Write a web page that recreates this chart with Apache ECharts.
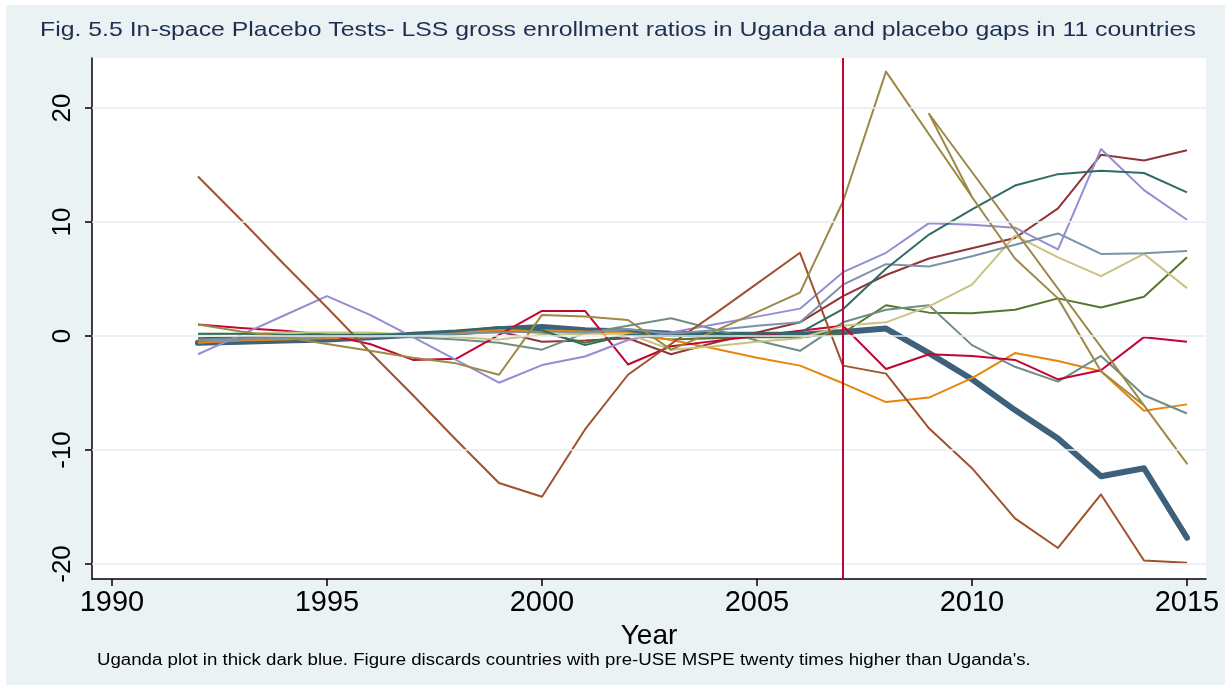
<!DOCTYPE html>
<html>
<head>
<meta charset="utf-8">
<script src="https://cdn.jsdelivr.net/npm/echarts@6/dist/echarts.min.js"></script>
<style>
  html, body { margin: 0; padding: 0; background: #ffffff; }
  #chart { width: 1231px; height: 690px; }
</style>
</head>
<body>
<div id="chart"></div>
<script>
// Years 1992-2015, shared by every country series drawn in year order
const years = [1992, 1993, 1994, 1995, 1996, 1997, 1998, 1999, 2000, 2001, 2002, 2003,
               2004, 2005, 2006, 2007, 2008, 2009, 2010, 2011, 2012, 2013, 2014, 2015];

// Gap series (percentage points)
const uganda    = [-0.6, -0.5, -0.4, -0.3, -0.1, 0.1, 0.3, 0.6, 0.8, 0.5, 0.4, 0.2,
                   0.1, 0.1, 0.1, 0.35, 0.65, -1.5, -3.8, -6.5, -9.0, -12.3, -11.6, -17.7];
const maroon    = [-0.2, -0.1, 0.0, 0.1, 0.1, 0.2, 0.3, 0.4, -0.5, -0.4, -0.2, -1.6,
                   -0.6, 0.3, 1.2, 3.5, 5.35, 6.8, 7.7, 8.6, 11.2, 15.9, 15.4, 16.3];
const forest    = [-0.3, -0.2, -0.1, 0.0, 0.1, 0.1, 0.2, 0.4, 0.3, -0.6, 0.1, -0.3,
                   -0.2, -0.1, -0.1, 0.26, 2.7, 2.05, 2.0, 2.3, 3.3, 2.5, 3.45, 6.9];
const dkorange  = [-0.6, -0.4, -0.3, -0.2, -0.1, 0.1, 0.3, 0.5, 0.5, 0.4, 0.3, -0.35,
                   -1.1, -1.9, -2.6, -4.15, -5.8, -5.4, -3.7, -1.5, -2.2, -3.1, -6.55, -6.0];
const teal      = [-0.3, -0.2, -0.1, 0.0, 0.0, -0.1, -0.3, -0.6, -1.2, 0.25, 0.9, 1.55,
                   0.6, -0.4, -1.3, 1.2, 2.3, 2.7, -0.8, -2.7, -4.0, -1.75, -5.2, -6.8];
const cranberry = [1.0, 0.7, 0.45, 0.1, -0.7, -2.1, -2.0, 0.1, 2.2, 2.2, -2.5, -0.9,
                   -0.45, 0.0, 0.45, 0.9, -2.9, -1.6, -1.75, -2.1, -3.8, -3.0, -0.1, -0.5];
const lavender  = [-1.6, 0.1, 1.8, 3.5, 1.85, -0.1, -2.1, -4.1, -2.55, -1.8, -0.35, 0.3,
                   1.0, 1.7, 2.4, 5.6, 7.3, 9.9, 9.75, 9.5, 7.6, 16.4, 12.8, 10.2];
const khaki     = [0.1, 0.2, 0.3, 0.3, 0.3, 0.1, -0.1, -0.3, 0.1, 0.2, 0.2, -1.2,
                   -0.9, -0.5, -0.2, 0.9, 1.2, 2.6, 4.5, 8.8, 6.9, 5.25, 7.2, 4.2];
const sienna    = [14.0, 10.2, 6.3, 2.5, -1.4, -5.2, -9.1, -12.9, -14.1, -8.2, -3.4, -0.7,
                   1.9, 4.6, 7.3, -2.6, -3.3, -8.1, -11.6, -16.0, -18.6, -13.9, -19.7, -19.9];
const emidblue  = [-0.4, -0.3, -0.2, -0.1, 0.0, 0.1, 0.2, 0.3, 0.4, 0.3, 0.6, 0.2,
                   0.5, 0.9, 1.2, 4.5, 6.3, 6.1, 7.0, 8.0, 9.0, 7.2, 7.25, 7.45];
const emerald   = [0.2, 0.2, 0.1, 0.1, 0.1, 0.2, 0.4, 0.8, 0.5, -0.8, 0.1, 0.0,
                   0.1, 0.2, 0.3, 2.35, 5.9, 8.9, 11.1, 13.2, 14.2, 14.5, 14.3, 12.6];

// This country's rows are stored out of year order; the line follows row order
const brownYears  = [1992, 1993, 1994, 1995, 1996, 1997, 1998, 1999, 2000, 2001, 2002, 2003,
                     2004, 2005, 2006, 2007, 2008, 2010, 2011, 2012, 2013, 2014, 2015, 2009, 2010];
const brownValues = [1.0, 0.4, -0.1, -0.7, -1.3, -1.9, -2.4, -3.4, 1.85, 1.7, 1.4, -1.2,
                     0.4, 2.1, 3.8, 11.8, 23.2, 12.2, 6.8, 3.3, -3.1, -6.1, -11.2, 19.5, 12.2];

// Axis ticks and the treatment year (universal secondary education)
const xTicks = [1990, 1995, 2000, 2005, 2010, 2015];
const yTicks = [-20, -10, 0, 10, 20];
const treatYear = 2007;

const titleText = 'Fig. 5.5 In-space Placebo Tests- LSS gross enrollment ratios in Uganda and placebo gaps in 11 countries';
const noteText = "Uganda plot in thick dark blue. Figure discards countries with pre-USE MSPE twenty times higher than Uganda's.";

const FONT = '"Liberation Sans", Arial, Helvetica, sans-serif';

const thinSeries = [
  { name: 'maroon',    values: maroon,    color: '#90353b' },
  { name: 'forest',    values: forest,    color: '#55752f' },
  { name: 'dkorange',  values: dkorange,  color: '#e8850c' },
  { name: 'teal',      values: teal,      color: '#6e8e84' },
  { name: 'cranberry', values: cranberry, color: '#c10534' },
  { name: 'lavender',  values: lavender,  color: '#938dd2' },
  { name: 'khaki',     values: khaki,     color: '#cac27e' },
  { name: 'sienna',    values: sienna,    color: '#a0522d' },
  { name: 'emidblue',  values: emidblue,  color: '#7b92a8' },
  { name: 'emerald',   values: emerald,   color: '#2d6d66' }
];

function pairs(xs, vs) { return xs.map((x, i) => [x, vs[i]]); }

const series = [];

// grid lines underneath everything
series.push({
  type: 'line', name: 'grid', data: [], z: 1, silent: true,
  markLine: {
    silent: true, symbol: 'none', animation: false,
    label: { show: false },
    lineStyle: { color: '#e6eef1', width: 1.5, type: 'solid' },
    data: yTicks.map(v => ({ yAxis: v }))
  }
});

series.push({
  type: 'line', name: 'Uganda', data: pairs(years, uganda),
  symbol: 'none', z: 2,
  lineStyle: { color: '#3d607b', width: 6, cap: 'round', join: 'round' }
});

thinSeries.forEach(s => {
  series.push({
    type: 'line', name: s.name, data: pairs(years, s.values),
    symbol: 'none', z: 3,
    lineStyle: { color: s.color, width: 2, join: 'round' }
  });
});

series.push({
  type: 'line', name: 'brown', data: pairs(brownYears, brownValues),
  symbol: 'none', z: 3,
  lineStyle: { color: '#9c8847', width: 2, join: 'round' }
});

// treatment-year line on top
series.push({
  type: 'line', name: 'treat', data: [], z: 6, silent: true,
  markLine: {
    silent: true, symbol: 'none', animation: false,
    label: { show: false },
    lineStyle: { color: '#c10534', width: 2, type: 'solid' },
    data: [{ xAxis: treatYear }]
  }
});

const chart = echarts.init(document.getElementById('chart'), null, { renderer: 'canvas' });
chart.setOption({
  animation: false,
  backgroundColor: '#ffffff',
  graphic: [
    { type: 'rect', z: -10, shape: { x: 6, y: 5, width: 1219, height: 680 },
      style: { fill: '#eaf2f3' } },
    { type: 'text', x: 40, y: 20, scaleX: 1.182, z: 10,
      style: { text: titleText, font: '21px ' + FONT, fill: '#1f2e51' } },
    { type: 'text', x: 97, y: 653, scaleX: 1.166, z: 10,
      style: { text: noteText, font: '16px ' + FONT, fill: '#000000' } }
  ],
  grid: {
    left: 92, right: 25, top: 58, bottom: 111,
    show: true, backgroundColor: '#ffffff', borderWidth: 0
  },
  xAxis: {
    type: 'value', min: 1989.535, max: 2015.442,
    axisLine: { show: true, onZero: false, lineStyle: { color: '#000', width: 1.5 } },
    axisTick: { show: true, customValues: xTicks, length: 7, lineStyle: { color: '#000', width: 1.5 } },
    axisLabel: { customValues: xTicks, fontSize: 29, color: '#000', fontFamily: FONT, margin: 9,
                 formatter: v => String(v) },
    splitLine: { show: false },
    name: 'Year', nameLocation: 'middle', nameGap: 31,
    nameTextStyle: { fontSize: 28, color: '#000', fontFamily: FONT }
  },
  yAxis: {
    type: 'value', min: -21.32, max: 24.39,
    axisLine: { show: true, onZero: false, lineStyle: { color: '#000', width: 1.5 } },
    axisTick: { show: true, customValues: yTicks, length: 7, lineStyle: { color: '#000', width: 1.5 } },
    axisLabel: { customValues: yTicks, rotate: 90, fontSize: 26, color: '#000', fontFamily: FONT, margin: 16,
                 formatter: v => String(v) },
    splitLine: { show: false }
  },
  series: series
});
</script>
</body>
</html>
